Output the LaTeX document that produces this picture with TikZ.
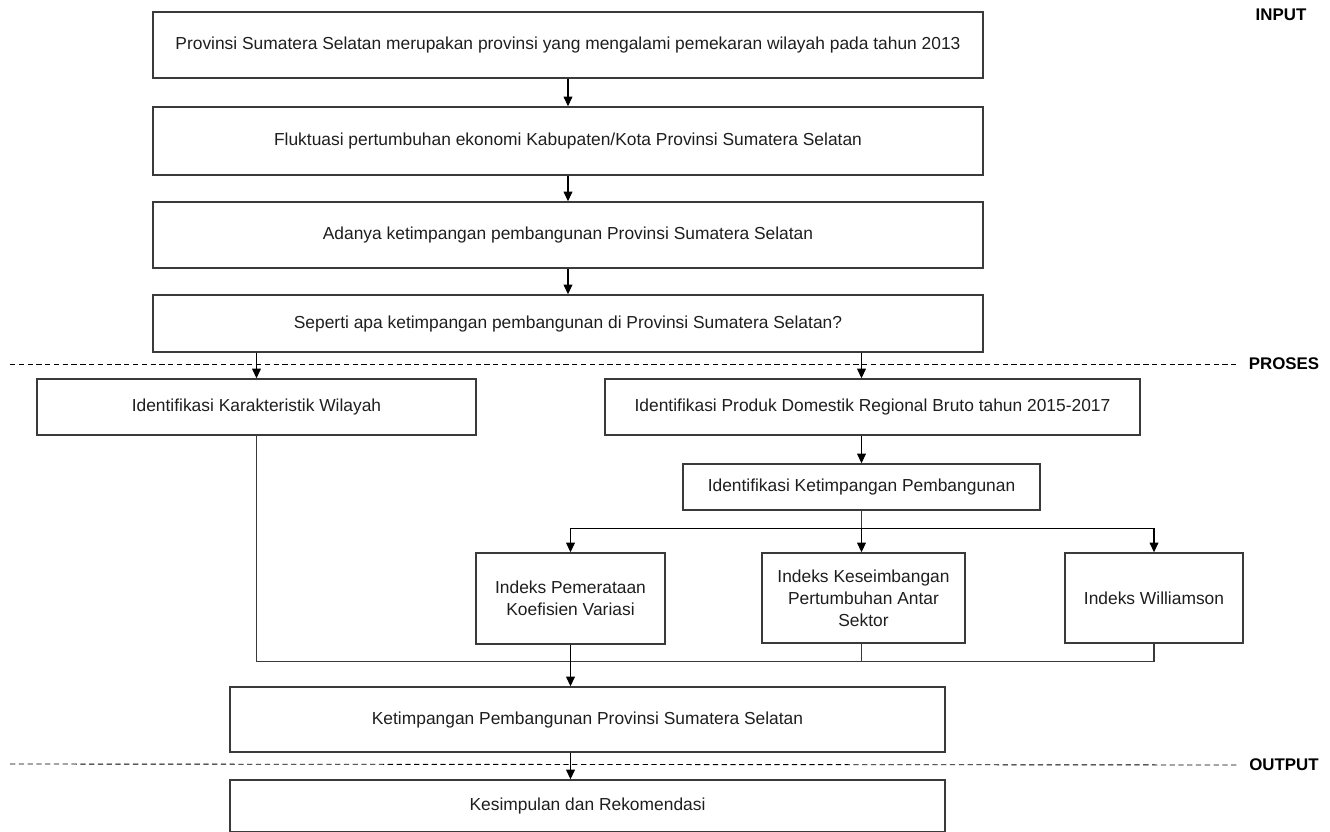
\documentclass[tikz,border=0pt]{standalone}
\usepackage{fontspec}
\setmainfont{Liberation Sans}
\usetikzlibrary{arrows.meta,positioning,calc}
\definecolor{cgaris}{HTML}{3A3A3A}
\definecolor{cteks}{HTML}{1E1E1E}
\tikzset{
  kotak/.style={draw=cgaris,line width=0.8pt,align=center,inner sep=3pt,
                text=cteks,font=\fontsize{9.9}{12.4}\selectfont},
  panah/.style={-{Triangle[length=5.5pt,width=5pt]},draw=black,line width=0.6pt},
  garis/.style={draw=cgaris,line width=0.8pt},
  batas/.style={draw=black,dashed,dash pattern=on 3pt off 2pt,line width=0.5pt},
  tahap/.style={font=\fontsize{9.6}{12}\selectfont\bfseries,text=black,inner sep=1pt},
}

\begin{document}
\begin{tikzpicture}[x=0.02cm,y=-0.02cm]
\useasboundingbox (0,0) rectangle (1330,832);

% alur input
\node[kotak,minimum width=830*0.02cm,minimum height=66*0.02cm] (b1) at (568,45)
  {Provinsi Sumatera Selatan merupakan provinsi yang mengalami pemekaran wilayah pada tahun 2013};
\node[kotak,minimum width=830*0.02cm,minimum height=68*0.02cm] (b2) at (568,141)
  {Fluktuasi pertumbuhan ekonomi Kabupaten/Kota Provinsi Sumatera Selatan};
\node[kotak,minimum width=830*0.02cm,minimum height=66*0.02cm] (b3) at (568,235)
  {Adanya ketimpangan pembangunan Provinsi Sumatera Selatan};
\node[kotak,minimum width=830*0.02cm,minimum height=57*0.02cm] (b4) at (568,323.5)
  {Seperti apa ketimpangan pembangunan di Provinsi Sumatera Selatan?};

% proses
\node[kotak,minimum width=439*0.02cm,minimum height=56*0.02cm] (kar) at (256.5,407)
  {Identifikasi Karakteristik Wilayah};
\node[kotak,minimum width=535*0.02cm,minimum height=56*0.02cm] (pdrb) at (872.5,407)
  {Identifikasi Produk Domestik Regional Bruto tahun 2015-2017};
\node[kotak,minimum width=357*0.02cm,minimum height=46*0.02cm] (ket) at (861.5,487)
  {Identifikasi Ketimpangan Pembangunan};
\node[kotak,minimum width=189*0.02cm,minimum height=91*0.02cm] (pem) at (570.5,598.5)
  {Indeks Pemerataan\\Koefisien Variasi};
\node[kotak,minimum width=203*0.02cm,minimum height=90*0.02cm] (kes) at (863.5,598)
  {Indeks Keseimbangan\\Pertumbuhan Antar\\Sektor};
\node[kotak,minimum width=178*0.02cm,minimum height=90*0.02cm] (wil) at (1154,598)
  {Indeks Williamson};
\node[kotak,minimum width=715*0.02cm,minimum height=65*0.02cm] (kp) at (587.5,719.5)
  {Ketimpangan Pembangunan Provinsi Sumatera Selatan};

% output
\node[kotak,minimum width=715*0.02cm,minimum height=52*0.02cm] (kr) at (587.5,806)
  {Kesimpulan dan Rekomendasi};

% label tahap
\node[tahap] (lin) at (1281,15) {INPUT};
\node[tahap] (lpro) at (1284,364) {PROSES};
\node[tahap] (lout) at (1284,765) {OUTPUT};
\coordinate (sa) at (10,364);
\coordinate (sb) at (10,764);
\draw[batas] (sa) -- ([xshift=-5pt]lpro.west);
\draw[batas] (sb) -- ([xshift=-5pt]lout.west);

% panah
\draw[panah] (b1) -- (b2);
\draw[panah] (b2) -- (b3);
\draw[panah] (b3) -- (b4);
\draw[panah] (b4.south -| kar.north) -- (kar.north);
\draw[panah] (b4.south -| ket.north) -- (ket.north |- pdrb.north);
\draw[panah] (pdrb.south -| ket.north) -- (ket.north);
\draw[garis] (ket.south) -- ++(0,18) coordinate (cab);
\draw[panah] (cab) -| (pem.north);
\draw[panah] (cab) -| (wil.north);
\draw[panah] (cab) -- (cab |- kes.north);
\draw[garis] (kar.south) -- ++(0,226) coordinate (gab) -| (wil.south);
\draw[garis] (kes.south -| cab) -- (gab -| cab);
\draw[panah] (pem.south) -- (pem.south |- kp.north);
\draw[panah] (pem.south |- kp.south) -- (pem.south |- kr.north);

\end{tikzpicture}
\end{document}
